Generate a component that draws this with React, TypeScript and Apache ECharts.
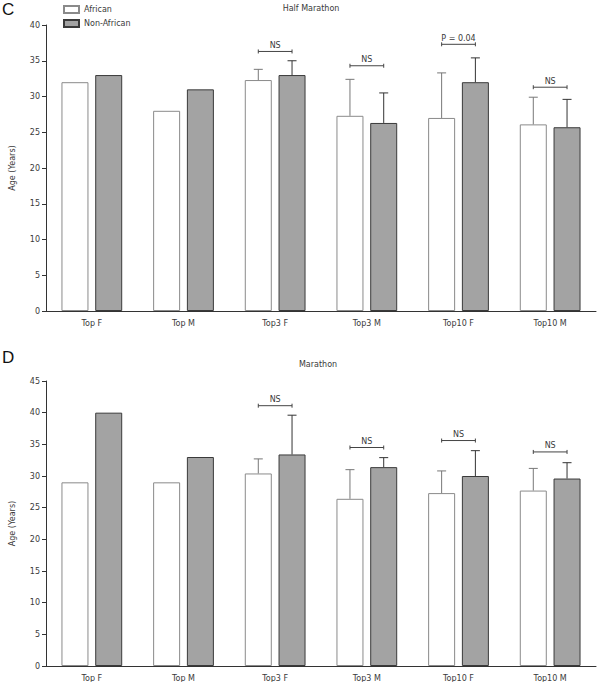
import React, { useEffect, useRef } from "react";
import * as echarts from "echarts";

const categories = ["Top F", "Top M", "Top3 F", "Top3 M", "Top10 F", "Top10 M"];
const seriesNames = ["African", "Non-African"];

// Half Marathon (panel C)
const halfAfrican = [32, 28, 32.3, 27.3, 27.0, 26.1];
const halfAfricanErrTop = [null, null, 33.8, 32.4, 33.3, 29.9];
const halfNonAfrican = [33, 31, 33.0, 26.3, 32.0, 25.7];
const halfNonAfricanErrTop = [null, null, 35.0, 30.5, 35.4, 29.6];
const halfSigLabels = [null, null, "NS", "NS", "P = 0.04", "NS"];
const halfSigLevels = [null, null, 36.3, 34.3, 37.3, 31.3];

// Marathon (panel D)
const marAfrican = [29, 29, 30.4, 26.4, 27.3, 27.7];
const marAfricanErrTop = [null, null, 32.7, 31.0, 30.8, 31.2];
const marNonAfrican = [40, 33, 33.4, 31.4, 30.0, 29.6];
const marNonAfricanErrTop = [null, null, 39.6, 32.9, 34.0, 32.1];
const marSigLabels = [null, null, "NS", "NS", "NS", "NS"];
const marSigLevels = [null, null, 41.1, 34.5, 35.6, 33.8];

const FONT = "DejaVu Sans";
const TXT = "#3a3a3a";
const BAR_W = 27;
const GAP_RATIO = 0.25;
const HALF_OFF = (BAR_W + BAR_W * GAP_RATIO) / 2;

function errData(vals: number[], tops: (number | null)[]) {
  const out: number[][] = [];
  vals.forEach((v, i) => {
    const t = tops[i];
    if (t != null) out.push([i, v, t]);
  });
  return out;
}

function sigData(levels: (number | null)[], labels: (string | null)[]) {
  const out: any[] = [];
  levels.forEach((l, i) => {
    if (l != null) out.push({ value: [i, l], label: labels[i] });
  });
  return out;
}

function errSeries(data: number[][], gi: number, sign: number, color: string) {
  return {
    type: "custom",
    xAxisIndex: gi,
    yAxisIndex: gi,
    z: 3,
    silent: true,
    data,
    renderItem: (params: any, api: any) => {
      const x = api.value(0);
      const base = api.coord([x, api.value(1)]);
      const top = api.coord([x, api.value(2)]);
      const cx = base[0] + sign * HALF_OFF;
      const style = { stroke: color, lineWidth: 1 };
      return {
        type: "group",
        children: [
          { type: "line", shape: { x1: cx, y1: base[1], x2: cx, y2: top[1] }, style },
          { type: "line", shape: { x1: cx - 4.5, y1: top[1], x2: cx + 4.5, y2: top[1] }, style },
        ],
      };
    },
  };
}

function sigSeries(data: any[], gi: number) {
  return {
    type: "custom",
    xAxisIndex: gi,
    yAxisIndex: gi,
    z: 4,
    silent: true,
    data,
    renderItem: (params: any, api: any) => {
      const x = api.value(0);
      const p = api.coord([x, api.value(1)]);
      const x1 = p[0] - HALF_OFF;
      const x2 = p[0] + HALF_OFF;
      const y = p[1];
      const style = { stroke: "#444", lineWidth: 1 };
      const label = data[params.dataIndex].label;
      return {
        type: "group",
        children: [
          { type: "line", shape: { x1, y1: y, x2, y2: y }, style },
          { type: "line", shape: { x1, y1: y - 2, x2: x1, y2: y + 2 }, style },
          { type: "line", shape: { x1: x2, y1: y - 2, x2, y2: y + 2 }, style },
          {
            type: "text",
            x: p[0],
            y: y - 2,
            style: {
              text: label,
              fill: TXT,
              font: `8px "${FONT}"`,
              align: "center",
              verticalAlign: "bottom",
            },
          },
        ],
      };
    },
  };
}

function axes(gi: number, max: number) {
  const xAxis = {
    type: "category",
    gridIndex: gi,
    data: categories,
    axisLine: { lineStyle: { color: "#333", width: 1 } },
    axisTick: { alignWithLabel: true, length: 4, lineStyle: { color: "#333" } },
    axisLabel: { fontSize: 8, color: TXT, margin: 8, fontFamily: FONT },
    splitLine: { show: false },
  };
  const yAxis = {
    type: "value",
    gridIndex: gi,
    min: 0,
    max,
    interval: 5,
    name: "Age (Years)",
    nameLocation: "middle",
    nameGap: 30,
    nameRotate: 90,
    nameTextStyle: { fontSize: 8, color: TXT, fontFamily: FONT },
    axisLine: { show: true, lineStyle: { color: "#333", width: 1 } },
    axisTick: { show: true, length: 4, lineStyle: { color: "#333" } },
    axisLabel: { fontSize: 8, color: TXT, margin: 6, fontFamily: FONT },
    splitLine: { show: false },
  };
  return { xAxis, yAxis };
}

function barSeries(name: string, data: number[], gi: number, white: boolean) {
  return {
    name,
    type: "bar",
    xAxisIndex: gi,
    yAxisIndex: gi,
    data,
    barWidth: BAR_W,
    barGap: `${GAP_RATIO * 100}%`,
    itemStyle: white
      ? { color: "#ffffff", borderColor: "#8a8a8a", borderWidth: 1 }
      : { color: "#a3a3a3", borderColor: "#3a3a3a", borderWidth: 1 },
  };
}

export default function App() {
  const ref = useRef<HTMLDivElement>(null);
  useEffect(() => {
    document.body.style.margin = "0";
    if (!ref.current) return;
    const chart = echarts.init(ref.current, null, { renderer: "svg" });
    const a0 = axes(0, 40);
    const a1 = axes(1, 45);
    const option = {
      animation: false,
      backgroundColor: "#ffffff",
      textStyle: { fontFamily: FONT },
      legend: {
        data: seriesNames,
        orient: "vertical",
        left: 58,
        top: 0,
        itemWidth: 15,
        itemHeight: 7,
        itemGap: 5,
        icon: "rect",
        textStyle: { fontSize: 8, color: TXT, fontFamily: FONT },
      },
      grid: [
        { left: 40, top: 25, width: 556, height: 286 },
        { left: 40, top: 381, width: 556, height: 285 },
      ],
      xAxis: [a0.xAxis, a1.xAxis],
      yAxis: [a0.yAxis, a1.yAxis],
      graphic: [
        { type: "text", left: 2, top: 1, style: { text: "C", font: '17px "Liberation Sans"', fill: "#111" } },
        { type: "text", left: 2, top: 349, style: { text: "D", font: '17px "Liberation Sans"', fill: "#111" } },
        { type: "text", x: 311, y: 8, style: { text: "Half Marathon", font: `8px "${FONT}"`, fill: TXT, align: "center", verticalAlign: "middle" } },
        { type: "text", x: 318, y: 364, style: { text: "Marathon", font: `8px "${FONT}"`, fill: TXT, align: "center", verticalAlign: "middle" } },
      ],
      series: [
        barSeries("African", halfAfrican, 0, true),
        barSeries("Non-African", halfNonAfrican, 0, false),
        barSeries("African", marAfrican, 1, true),
        barSeries("Non-African", marNonAfrican, 1, false),
        errSeries(errData(halfAfrican, halfAfricanErrTop), 0, -1, "#777"),
        errSeries(errData(halfNonAfrican, halfNonAfricanErrTop), 0, 1, "#333"),
        errSeries(errData(marAfrican, marAfricanErrTop), 1, -1, "#777"),
        errSeries(errData(marNonAfrican, marNonAfricanErrTop), 1, 1, "#333"),
        sigSeries(sigData(halfSigLevels, halfSigLabels), 0),
        sigSeries(sigData(marSigLevels, marSigLabels), 1),
      ],
    };
    chart.setOption(option as any);
    return () => chart.dispose();
  }, []);
  return <div ref={ref} style={{ width: 600, height: 682 }} />;
}
